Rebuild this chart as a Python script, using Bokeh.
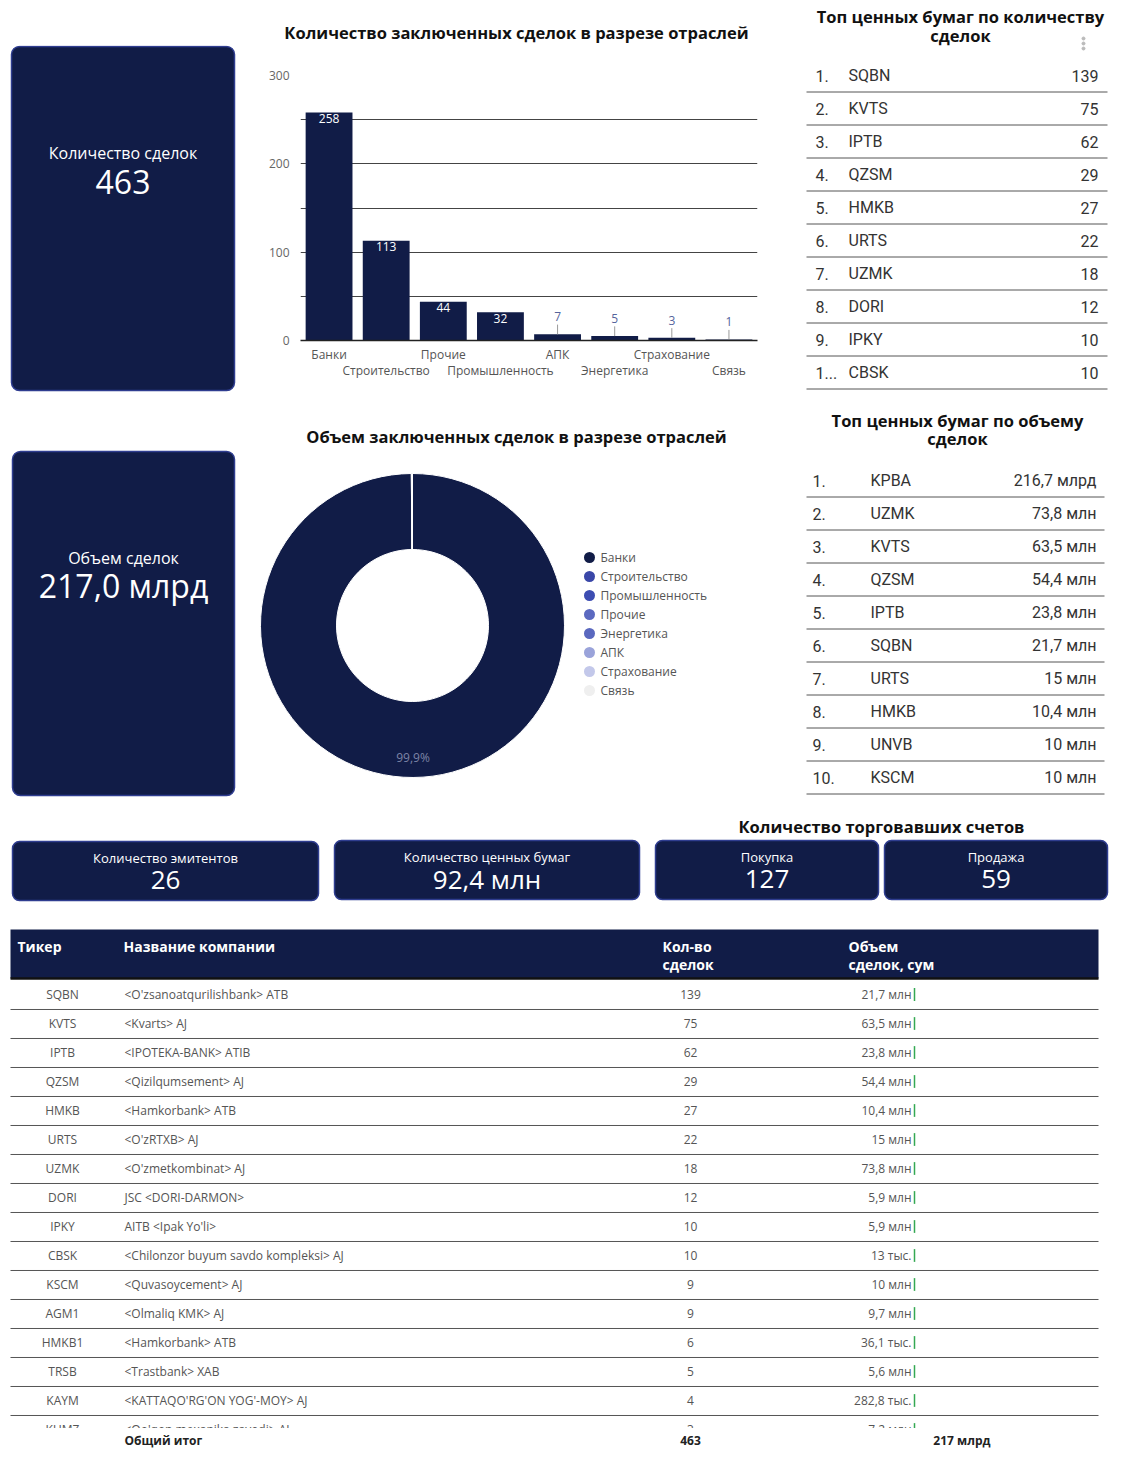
import numpy as np
from bokeh.plotting import figure
from bokeh.layouts import column, row
from bokeh.models import Range1d, FixedTicker, LinearAxis
from bokeh.core.properties import value
from bokeh.embed import file_html
from bokeh.resources import INLINE

# ---------------- data ----------------
sectors = ["Банки", "Строительство", "Прочие", "Промышленность", "АПК", "Энергетика", "Страхование", "Связь"]
deal_counts = [258, 113, 44, 32, 7, 5, 3, 1]
count_ticks = [0, 50, 100, 150, 200, 250, 300]
count_tick_labels = ["0", "", "100", "", "200", "", "300"]

vol_sectors = ["Банки", "Строительство", "Промышленность", "Прочие", "Энергетика", "АПК", "Страхование", "Связь"]
vol_values_mln = [216800, 130, 85, 40, 6, 5, 1, 0.3]
volume_total_label = "217,0 млрд"

top_count_ranks = ["1.", "2.", "3.", "4.", "5.", "6.", "7.", "8.", "9.", "1..."]
top_count_tickers = ["SQBN", "KVTS", "IPTB", "QZSM", "HMKB", "URTS", "UZMK", "DORI", "IPKY", "CBSK"]
top_count_values = [139, 75, 62, 29, 27, 22, 18, 12, 10, 10]

top_vol_ranks = ["1.", "2.", "3.", "4.", "5.", "6.", "7.", "8.", "9.", "10."]
top_vol_tickers = ["KPBA", "UZMK", "KVTS", "QZSM", "IPTB", "SQBN", "URTS", "HMKB", "UNVB", "KSCM"]
top_vol_labels = ["216,7 млрд", "73,8 млн", "63,5 млн", "54,4 млн", "23,8 млн", "21,7 млн",
                  "15 млн", "10,4 млн", "10 млн", "10 млн"]

kpi_titles = ["Количество эмитентов", "Количество ценных бумаг", "Покупка", "Продажа"]
kpi_values = ["26", "92,4 млн", "127", "59"]

tbl_tickers = ["SQBN", "KVTS", "IPTB", "QZSM", "HMKB", "URTS", "UZMK", "DORI", "IPKY", "CBSK",
               "KSCM", "AGM1", "HMKB1", "TRSB", "KAYM", "KUMZ"]
tbl_companies = ["<O'zsanoatqurilishbank> ATB", "<Kvarts> AJ", "<IPOTEKA-BANK> ATIB", "<Qizilqumsement> AJ",
                 "<Hamkorbank> ATB", "<O'zRTXB> AJ", "<O'zmetkombinat> AJ", "JSC <DORI-DARMON>",
                 "AITB <Ipak Yo'li>", "<Chilonzor buyum savdo kompleksi> AJ", "<Quvasoycement> AJ",
                 "<Olmaliq KMK> AJ", "<Hamkorbank> ATB", "<Trastbank> XAB", "<KATTAQO'RG'ON YOG'-MOY> AJ",
                 "<Qo'qon mexanika zavodi> AJ"]
tbl_counts = [139, 75, 62, 29, 27, 22, 18, 12, 10, 10, 9, 9, 6, 5, 4, 3]
tbl_volumes = ["21,7 млн", "63,5 млн", "23,8 млн", "54,4 млн", "10,4 млн", "15 млн", "73,8 млн", "5,9 млн",
               "5,9 млн", "13 тыс.", "10 млн", "9,7 млн", "36,1 тыс.", "5,6 млн", "282,8 тыс.", "7,2 млн"]
total_label = "Общий итог"
total_count = "463"
total_volume = "217 млрд"

# ---------------- styles ----------------
NAVY = "#111c47"
EDGE = "#2f3d90"
TXT = "#333333"
FONT = "Open Sans"
HEAD = 16.5
vol_colors = ["#111c47", "#3a47a8", "#3d4db2", "#5b69c0", "#5a68bf", "#9aa3da", "#c3c8ea", "#efefef"]


def panel(w, h, xr, yr):
    p = figure(width=w, height=h, x_range=xr, y_range=yr, output_backend="svg",
               toolbar_location=None, min_border=0, x_axis_type=None, y_axis_type=None,
               outline_line_color=None, background_fill_color="white", border_fill_color="white")
    return p


def txt(p, x, y, s, size, color=TXT, align="left", bold=False, font=FONT, baseline="middle"):
    p.text(x=x, y=y, text=s, text_font=value(font), text_font_size=f"{size}px",
           text_color=color, text_align=align, text_baseline=baseline,
           text_font_style="bold" if bold else "normal")


def card(p, l, t, r, b, radius=8):
    p.quad(left=[l], right=[r], top=[t], bottom=[b], fill_color=NAVY, line_color=EDGE,
           line_width=1.5, border_radius=radius)


# ---------------- top-left strip (bar chart title) ----------------
strip = panel(795, 45, Range1d(0, 795), Range1d(45, 0))
txt(strip, [516], [32], ["Количество заключенных сделок в разрезе отраслей"], HEAD, color="#111111",
    align="center", bold=True)

# ---------------- row 1 ----------------
c1 = panel(245, 360, Range1d(0, 245), Range1d(405, 45))
card(c1, 11, 46, 234, 390)
txt(c1, [122.5], [152], ["Количество сделок"], 16, color="white", align="center")
txt(c1, [122.5], [181], [str(sum(deal_counts))], 32, color="white", align="center")

idx = list(range(len(sectors)))
bar = figure(width=550, height=360, x_range=Range1d(-0.5, len(sectors) - 0.5), y_range=Range1d(0, 300),
             output_backend="svg", toolbar_location=None, outline_line_color=None, x_axis_type=None,
             min_border_left=55, min_border_right=38, min_border_top=30, min_border_bottom=65)
bar.vbar(x=idx, top=deal_counts, width=0.82, fill_color=NAVY, line_color=None)
bar.ygrid.grid_line_color = "#444444"
bar.ygrid.grid_line_width = 1
bar.yaxis.ticker = FixedTicker(ticks=count_ticks)
bar.yaxis.major_label_overrides = {t: l for t, l in zip(count_ticks, count_tick_labels)}
bar.yaxis.axis_line_color = None
bar.yaxis.major_tick_line_color = None
bar.yaxis.minor_tick_line_color = None
bar.yaxis.major_tick_out = 0
bar.yaxis.major_tick_in = 0
bar.yaxis.major_label_standoff = 11
bar.yaxis.major_label_text_font = FONT
bar.yaxis.major_label_text_font_size = "12px"
bar.yaxis.major_label_text_color = "#666666"

ax1 = LinearAxis(ticker=FixedTicker(ticks=idx[0::2]),
                 major_label_overrides={i: sectors[i] for i in idx[0::2]},
                 axis_line_color="#222222", axis_line_width=1.5, major_label_standoff=5)
ax2 = LinearAxis(ticker=FixedTicker(ticks=idx[1::2]),
                 major_label_overrides={i: sectors[i] for i in idx[1::2]},
                 axis_line_color=None, major_label_standoff=-4)
for ax in (ax1, ax2):
    ax.major_tick_line_color = None
    ax.minor_tick_line_color = None
    ax.major_tick_out = 0
    ax.major_tick_in = 0
    ax.minor_tick_out = 0
    ax.major_label_text_font = FONT
    ax.major_label_text_font_size = "12px"
    ax.major_label_text_color = "#555555"
    bar.add_layout(ax, "below")

ins = [(i, v) for i, v in zip(idx, deal_counts) if v >= 20]
outs = [(i, v) for i, v in zip(idx, deal_counts) if v < 20]
bar.text(x=[i for i, v in ins], y=[v - 2 for i, v in ins], text=[str(v) for i, v in ins],
         text_font=value(FONT), text_font_size="12px", text_color="white",
         text_align="center", text_baseline="top")
bar.segment(x0=[i for i, v in outs], x1=[i for i, v in outs], y0=[v for i, v in outs],
            y1=[v + 11 for i, v in outs], line_color="#9a9a9a", line_width=1)
bar.text(x=[i for i, v in outs], y=[v + 20 for i, v in outs], text=[str(v) for i, v in outs],
         text_font=value(FONT), text_font_size="12px", text_color="#56649c",
         text_align="center", text_baseline="middle")

# top table 1 (rows in row units), full height of row 1
def r1(sy):
    return (sy - 75) / 33

t1 = panel(323, 405, Range1d(795, 1118), Range1d(r1(405), r1(0)))
txt(t1, [960], [r1(16)], ["Топ ценных бумаг по количеству"], HEAD, color="#111111", align="center", bold=True)
txt(t1, [960], [r1(35)], ["сделок"], HEAD, color="#111111", align="center", bold=True)
t1.scatter(x=[1083, 1083, 1083], y=[r1(38), r1(43), r1(48)], size=3, color="#bbbbbb")
rows1 = list(range(len(top_count_tickers)))
txt(t1, 815, rows1, top_count_ranks, 16, font="Roboto")
txt(t1, 848, rows1, top_count_tickers, 16, font="Roboto")
txt(t1, 1098, rows1, [str(v) for v in top_count_values], 16, font="Roboto", align="right")
t1.segment(x0=806, x1=1107, y0=[r + 0.5 for r in rows1], y1=[r + 0.5 for r in rows1],
           line_color="#555555", line_width=1)

# ---------------- row 2 ----------------
c2 = panel(245, 400, Range1d(0, 245), Range1d(805, 405))
card(c2, 12, 451, 234, 795)
txt(c2, [123], [557], ["Объем сделок"], 16, color="white", align="center")
txt(c2, [123], [585], [volume_total_label], 32, color="white", align="center")

# donut panel: centre of donut at data (0,0), y up
d = panel(550, 400, Range1d(-167, 383), Range1d(-180, 220))
txt(d, [104], [189], ["Объем заключенных сделок в разрезе отраслей"], HEAD, color="#111111",
    align="center", bold=True)
vals = np.array(vol_values_mln, dtype=float)
frac = vals / vals.sum()
cum = np.concatenate([[0.0], np.cumsum(frac)])
start = np.pi / 2 - 2 * np.pi * cum[:-1]
end = np.pi / 2 - 2 * np.pi * cum[1:]
d.annular_wedge(x=0, y=0, inner_radius=76, outer_radius=152, start_angle=start, end_angle=end,
                direction="clock", fill_color=vol_colors, line_color="white", line_width=1)
mid = (start + end) / 2
big = frac > 0.05
txt(d, list(132 * np.cos(mid[big])), list(132 * np.sin(mid[big])),
    [f"{f * 100:.1f}".replace(".", ",") + "%" for f in frac[big]], 12, color="#7d84a6", align="center")
leg_y = [68 - 19 * i for i in range(len(vol_sectors))]
d.scatter(x=[177] * len(vol_sectors), y=leg_y, size=11, fill_color=vol_colors, line_color=None)
txt(d, 188, leg_y, vol_sectors, 12, color="#555555")

def r2(sy):
    return (sy - 480) / 33

t2 = panel(323, 400, Range1d(795, 1118), Range1d(r2(805), r2(405)))
txt(t2, [957], [r2(420)], ["Топ ценных бумаг по объему"], HEAD, color="#111111", align="center", bold=True)
txt(t2, [957], [r2(438)], ["сделок"], HEAD, color="#111111", align="center", bold=True)
rows2 = list(range(len(top_vol_tickers)))
txt(t2, 812, rows2, top_vol_ranks, 16, font="Roboto")
txt(t2, 870, rows2, top_vol_tickers, 16, font="Roboto")
txt(t2, 1096, rows2, top_vol_labels, 16, font="Roboto", align="right")
t2.segment(x0=806, x1=1104, y0=[r + 0.5 for r in rows2], y1=[r + 0.5 for r in rows2],
           line_color="#555555", line_width=1)

# ---------------- row 3: KPI cards ----------------
k = panel(1118, 110, Range1d(0, 1118), Range1d(915, 805))
txt(k, [881], [826], ["Количество торговавших счетов"], HEAD, color="#111111", align="center", bold=True)
kpi_boxes = [(12, 841, 318, 900), (334, 840, 639, 899), (655, 840, 878, 899), (884, 840, 1107, 899)]
for (l, t, r, b), title, val in zip(kpi_boxes, kpi_titles, kpi_values):
    card(k, l, t, r, b, radius=7)
    cx = (l + r) / 2
    txt(k, [cx], [t + 16], [title], 13, color="white", align="center")
    txt(k, [cx], [t + 38], [val], 26, color="white", align="center")

# ---------------- row 4: table ----------------
def r4(sy):
    return (sy - 994) / 29

tb = panel(1118, 546, Range1d(0, 1118), Range1d(r4(1461), r4(915)))
tb.quad(left=[10], right=[1098], top=[r4(929)], bottom=[r4(978)], fill_color=NAVY, line_color=None)
tb.segment(x0=[10], x1=[1098], y0=[r4(978)], y1=[r4(978)], line_color="#111111", line_width=2.5)
txt(tb, [17, 123, 662, 848], [r4(946)] * 4, ["Тикер", "Название компании", "Кол-во", "Объем"], 14,
    color="white", bold=True)
txt(tb, [662, 848], [r4(964)] * 2, ["сделок", "сделок, сум"], 14, color="white", bold=True)
rows4 = list(range(len(tbl_tickers)))
txt(tb, 62, rows4, tbl_tickers, 12, color="#555555", align="center")
txt(tb, 124, rows4, tbl_companies, 12, color="#555555")
txt(tb, 690, rows4, [str(c) for c in tbl_counts], 12, color="#555555", align="center")
txt(tb, 911, rows4, tbl_volumes, 12, color="#555555", align="right")
tb.segment(x0=914, x1=914, y0=[r - 0.22 for r in rows4], y1=[r + 0.22 for r in rows4],
           line_color="#34a853", line_width=1.5)
sep = rows4[:-1]
tb.segment(x0=10, x1=1098, y0=[r + 0.517 for r in sep], y1=[r + 0.517 for r in sep],
           line_color="#555555", line_width=1)
tb.quad(left=[0], right=[1118], top=[r4(1427.5)], bottom=[r4(1461)], fill_color="white", line_color=None)
txt(tb, [124], [r4(1440)], [total_label], 12, color="#222222", bold=True)
txt(tb, [690], [r4(1440)], [total_count], 12, color="#222222", bold=True, align="center")
txt(tb, [990], [r4(1440)], [total_volume], 12, color="#222222", bold=True, align="right")

top_left = column(strip, row(c1, column(bar)))
layout = column(row(top_left, t1), row(c2, d, t2), k, tb)

with open("out.html", "w") as f:
    f.write(file_html(layout, INLINE))
